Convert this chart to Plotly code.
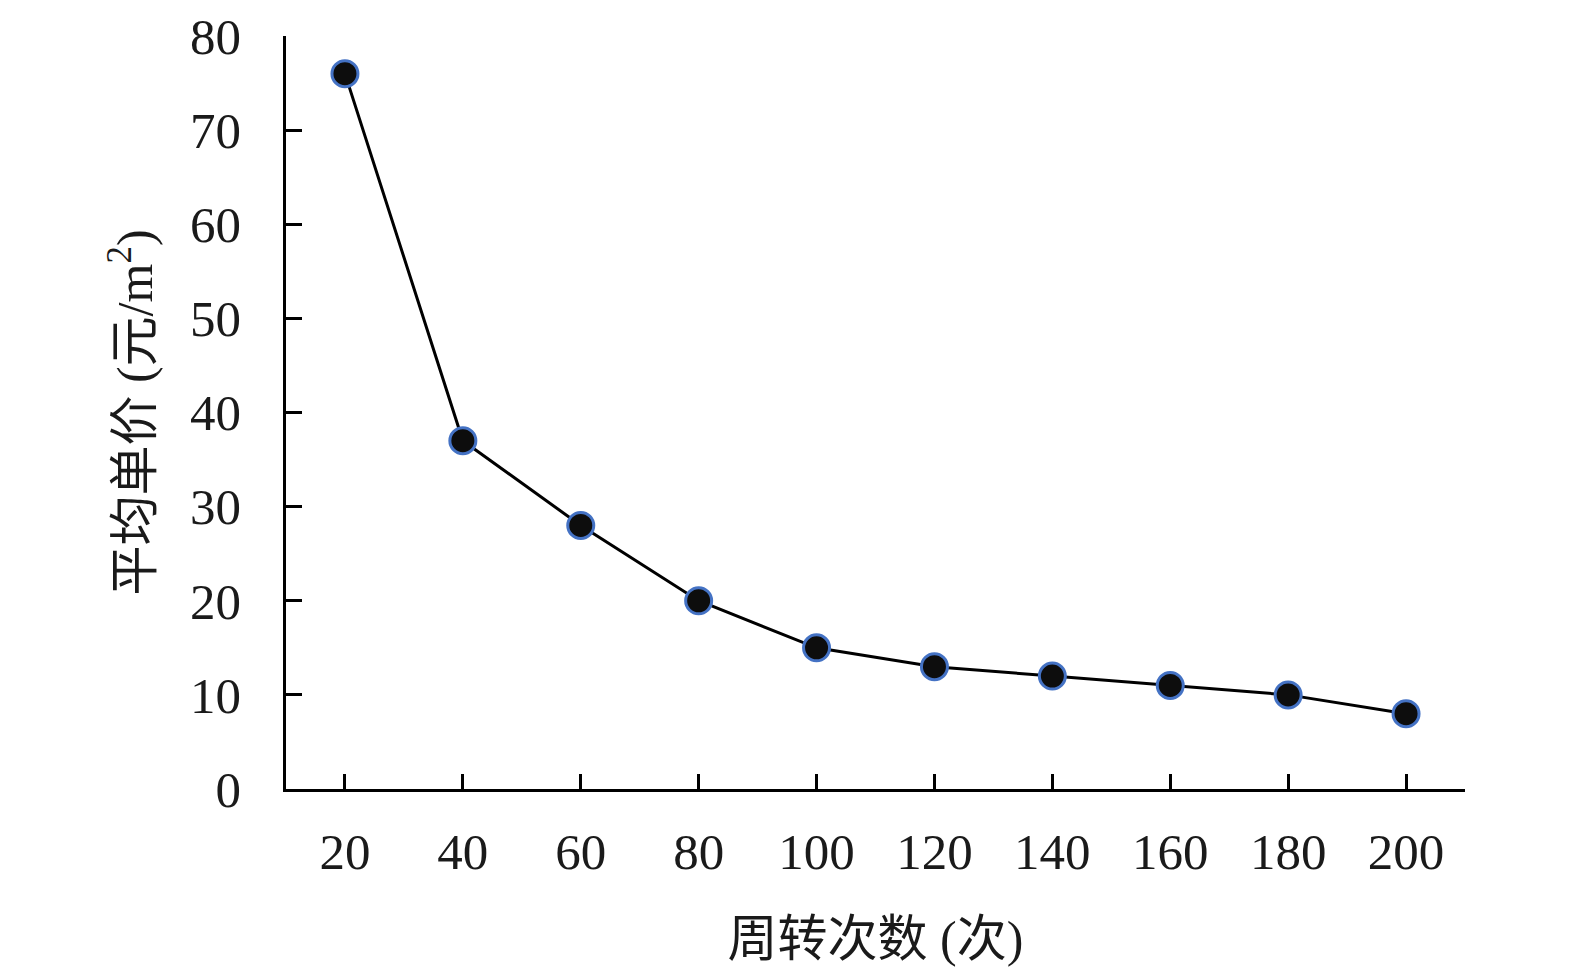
import plotly.graph_objects as go

# data
turnover = ["20", "40", "60", "80", "100", "120", "140", "160", "180", "200"]
avg_price = [76, 37, 28, 20, 15, 13, 12, 11, 10, 8]
y_ticks = [0, 10, 20, 30, 40, 50, 60, 70, 80]

font_family = "Liberation Serif, Noto Sans CJK SC"

fig = go.Figure(
    data=go.Scatter(
        x=turnover,
        y=avg_price,
        mode="lines+markers",
        line=dict(color="#000000", width=3),
        marker=dict(size=26, color="#0d0d0d", line=dict(color="#4472C4", width=3)),
        cliponaxis=False,
    )
)

fig.update_layout(
    width=1575,
    height=978,
    plot_bgcolor="#FFF",
    paper_bgcolor="#FFF",
    showlegend=False,
    margin=dict(l=278, r=118, t=28, b=197, autoexpand=False),
    font=dict(family=font_family, size=51, color="#1a1a1a"),
    xaxis=dict(
        type="category",
        range=[-0.5, 9.5],
        showgrid=False,
        showline=True,
        linecolor="#000",
        linewidth=2.5,
        ticks="inside",
        ticklen=15,
        tickwidth=2.5,
        tickcolor="#000",
        ticklabelstandoff=16,
        tickfont=dict(size=51),
        title=dict(text="周转次数 (次)", font=dict(size=50), standoff=43),
        zeroline=False,
        automargin=False,
    ),
    yaxis=dict(
        range=[0, 80],
        tickvals=y_ticks,
        showgrid=False,
        showline=True,
        linecolor="#000",
        linewidth=2.5,
        ticks="inside",
        ticklen=16,
        tickwidth=2.5,
        tickcolor="#000",
        ticklabelstandoff=32,
        tickfont=dict(size=51),
        title=dict(text="平均单价 (元/m<sup>2</sup>)", font=dict(size=50), standoff=22),
        zeroline=False,
        automargin=False,
    ),
)

fig.write_html("out.html")
